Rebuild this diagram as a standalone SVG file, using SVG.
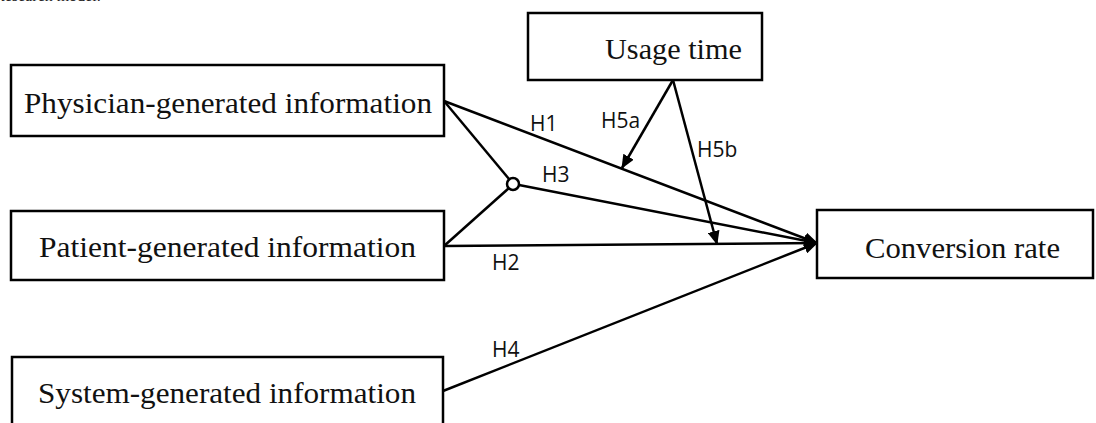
<svg xmlns="http://www.w3.org/2000/svg" width="1096" height="423" viewBox="0 0 1096 423">
<style>
.box{fill:#fff;stroke:#000;stroke-width:2.5}
.nt{font-family:"Liberation Serif","DejaVu Serif",serif;font-size:29px;fill:#111}
.lb{font-family:"Open Sans","Liberation Sans",sans-serif;font-size:21px;fill:#111}
.ln{stroke:#000;stroke-width:2.5;fill:none}
</style>
<defs>
<marker id="ah" viewBox="0 0 14 12" refX="13" refY="6" markerWidth="14" markerHeight="12" markerUnits="userSpaceOnUse" orient="auto">
<path d="M0,0 L14,6 L0,12 Z" fill="#000"/>
</marker>
</defs>
<rect width="1096" height="423" fill="#fff"/>
<text x="-6" y="1" font-family="Liberation Serif,serif" font-size="16" fill="#222">Research model.</text>
<g id="physician">
<rect class="box" x="11" y="65" width="433" height="71"/>
<text class="nt" x="24" y="113" textLength="408" lengthAdjust="spacingAndGlyphs">Physician-generated information</text>
</g>
<g id="patient">
<rect class="box" x="11" y="211" width="433" height="69"/>
<text class="nt" x="39" y="257" textLength="377" lengthAdjust="spacingAndGlyphs">Patient-generated information</text>
</g>
<g id="system">
<rect class="box" x="12" y="357" width="431" height="80"/>
<text class="nt" x="38" y="403" textLength="378" lengthAdjust="spacingAndGlyphs">System-generated information</text>
</g>
<g id="usage">
<rect class="box" x="528" y="13" width="234" height="67"/>
<text class="nt" x="605" y="59" textLength="137" lengthAdjust="spacingAndGlyphs">Usage time</text>
</g>
<g id="conversion">
<rect class="box" x="817" y="210" width="276" height="68"/>
<text class="nt" x="865" y="258" textLength="195" lengthAdjust="spacingAndGlyphs">Conversion rate</text>
</g>
<g id="connectors">
<line class="ln" x1="444" y1="101" x2="817" y2="243" marker-end="url(#ah)"/>
<line class="ln" x1="444" y1="101" x2="509" y2="179"/>
<line class="ln" x1="444" y1="246" x2="509" y2="188"/>
<circle cx="513" cy="184" r="6" fill="#fff" stroke="#000" stroke-width="2.5"/>
<line class="ln" x1="519" y1="185" x2="817" y2="243" marker-end="url(#ah)"/>
<line class="ln" x1="444" y1="246" x2="817" y2="243" marker-end="url(#ah)"/>
<line class="ln" x1="443" y1="391" x2="817" y2="243" marker-end="url(#ah)"/>
<line class="ln" x1="673" y1="80" x2="622" y2="168" marker-end="url(#ah)"/>
<line class="ln" x1="673" y1="80" x2="717" y2="244" marker-end="url(#ah)"/>
</g>
<g id="labels">
<text class="lb" x="530" y="131">H1</text>
<text class="lb" x="542" y="182">H3</text>
<text class="lb" x="601" y="128">H5a</text>
<text class="lb" x="697" y="157">H5b</text>
<text class="lb" x="492" y="270">H2</text>
<text class="lb" x="492" y="357">H4</text>
</g>
</svg>
